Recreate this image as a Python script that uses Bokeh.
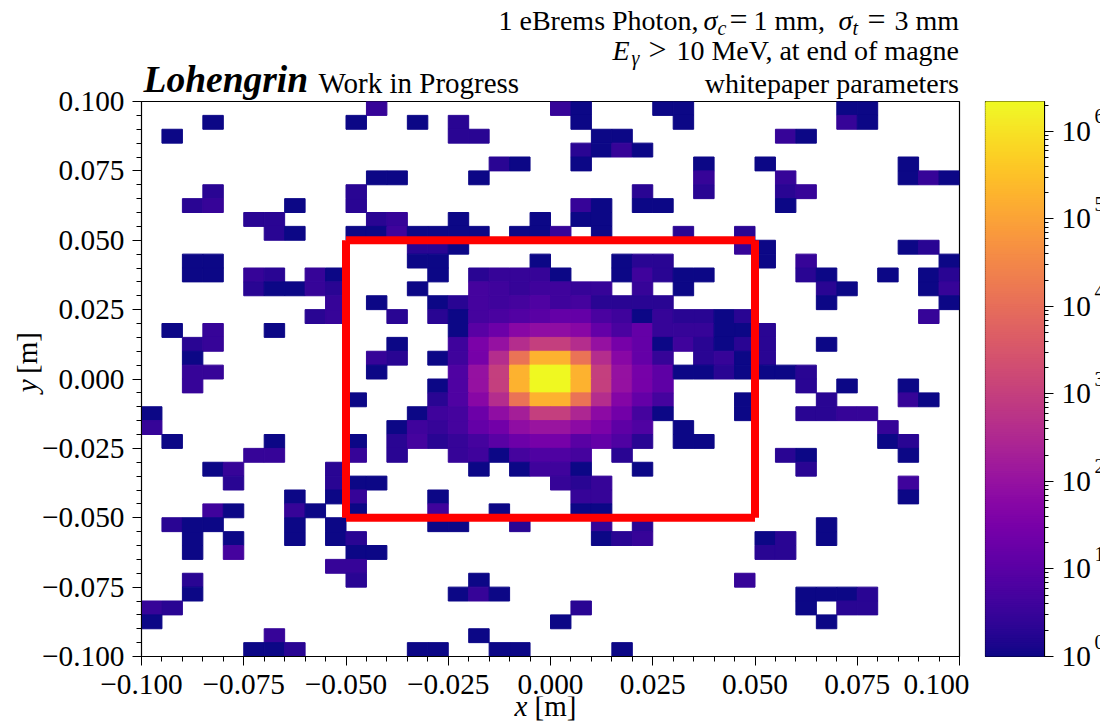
import numpy as np
from bokeh.core.properties import value
from bokeh.embed import file_html
from bokeh.resources import INLINE
from bokeh.plotting import figure
from bokeh.layouts import row, column
from bokeh.models import ColumnDataSource, LogColorMapper, FixedTicker, Range1d
from bokeh.palettes import Plasma256
from bokeh.transform import transform

FONT = "Liberation Serif"

# photon counts per bin: one {column: count} per row of the histogram, top row first
row_counts = [
 {11:3, 20:3, 21:1, 25:1, 26:1, 34:1, 35:1},
 {3:1, 10:1, 13:1, 15:2, 21:1, 26:1, 34:3, 35:1},
 {1:1, 15:2, 16:2, 22:1, 23:1, 31:3, 32:1},
 {21:2, 22:1, 23:3, 24:1},
 {17:2, 18:1, 21:1, 27:1, 30:1, 37:1},
 {11:1, 12:1, 16:1, 27:3, 31:3, 37:1, 38:3, 39:1},
 {3:2, 10:2, 24:2, 27:2, 31:2, 32:3},
 {2:2, 3:3, 7:1, 10:2, 21:3, 22:1, 24:1, 25:1, 31:1},
 {5:2, 6:2, 11:2, 12:3, 15:1, 19:1, 21:1, 22:1},
 {6:2, 7:1, 10:1, 11:1, 12:4, 13:1, 14:1, 15:1, 16:1, 18:1, 19:1, 20:3, 22:1, 26:2, 29:2},
 {13:2, 14:2, 15:1, 29:3, 30:1, 37:1, 38:2},
 {2:1, 3:1, 13:1, 14:1, 19:1, 23:1, 24:2, 25:2, 30:1, 32:3, 39:1},
 {2:1, 3:1, 5:3, 6:2, 8:3, 9:1, 14:1, 16:2, 17:3, 18:3, 19:3, 20:1, 23:1, 24:4, 25:2, 26:1, 27:1, 32:2, 33:1, 36:1, 38:1, 39:2},
 {5:2, 6:1, 7:1, 8:3, 9:2, 13:1, 16:5, 17:4, 18:3, 19:4, 20:4, 21:3, 22:3, 24:3, 26:1, 33:2, 34:1, 38:1, 39:3},
 {9:3, 11:1, 14:1, 15:2, 16:5, 17:4, 18:5, 19:7, 20:4, 21:5, 22:2, 23:2, 24:2, 25:2, 33:1, 39:1},
 {8:2, 9:3, 12:2, 14:2, 15:1, 16:5, 17:6, 18:8, 19:10, 20:15, 21:15, 22:6, 23:4, 24:1, 25:3, 26:2, 27:2, 28:1, 29:2, 38:3},
 {1:1, 3:3, 6:1, 15:1, 16:10, 17:20, 18:60, 19:80, 20:80, 21:60, 22:15, 23:6, 24:15, 25:3, 26:3, 27:3, 28:1, 29:1, 30:2},
 {2:2, 3:3, 12:1, 15:4, 16:35, 17:100, 18:400, 19:1000, 20:1000, 21:400, 22:100, 23:30, 24:15, 25:1, 26:4, 27:2, 28:1, 29:2, 30:2, 33:1},
 {2:1, 11:3, 12:2, 14:1, 15:4, 16:30, 17:400, 18:13000, 19:180000, 20:180000, 21:13000, 22:400, 23:60, 24:15, 25:3, 27:2, 28:3, 29:1, 30:2},
 {2:3, 3:3, 11:1, 15:7, 16:100, 17:1000, 18:180000, 19:2200000, 20:2200000, 21:180000, 22:1000, 23:100, 24:30, 25:12, 26:1, 27:1, 28:2, 29:1, 30:1, 31:1, 32:2},
 {2:3, 14:1, 15:7, 16:100, 17:1000, 18:180000, 19:2200000, 20:2200000, 21:180000, 22:1000, 23:100, 24:30, 25:12, 32:2, 34:1, 37:1},
 {10:1, 14:2, 15:7, 16:60, 17:400, 18:13000, 19:180000, 20:180000, 21:13000, 22:400, 23:50, 24:15, 25:5, 29:1, 33:2, 37:3, 38:1},
 {0:1, 13:1, 14:4, 15:5, 16:20, 17:80, 18:200, 19:1000, 20:1000, 21:300, 22:70, 23:25, 24:5, 25:1, 29:1, 32:2, 33:2, 34:3, 35:3},
 {0:3, 12:1, 13:4, 14:3, 15:5, 16:15, 17:25, 18:80, 19:120, 20:120, 21:70, 22:35, 23:12, 24:7, 26:1, 36:3},
 {1:1, 6:1, 10:1, 12:2, 13:5, 14:2, 15:3, 16:5, 17:10, 18:20, 19:30, 20:30, 21:10, 22:15, 23:7, 24:2, 26:1, 27:1, 36:1, 37:2},
 {5:3, 6:3, 10:3, 12:2, 15:3, 16:4, 17:1, 18:5, 19:7, 20:7, 21:5, 23:2, 31:2, 32:1, 37:1},
 {3:1, 4:3, 9:2, 16:1, 18:1, 19:4, 20:4, 21:1, 24:1, 32:2},
 {4:2, 9:2, 10:1, 11:1, 20:3, 21:2, 22:3, 37:4},
 {7:1, 9:1, 10:3, 14:1, 21:3, 22:3, 37:1},
 {3:4, 4:1, 7:3, 8:1, 10:1, 14:4, 17:1, 21:1, 22:1},
 {1:2, 2:1, 3:1, 7:1, 9:1, 14:1, 15:1, 18:2, 22:3, 24:2, 33:1},
 {2:1, 4:1, 7:1, 9:1, 10:2, 22:1, 23:2, 24:3, 30:1, 31:2, 33:1},
 {2:1, 4:5, 10:1, 11:1, 30:2, 31:2},
 {9:3, 10:3},
 {2:2, 10:2, 16:1, 29:3},
 {2:1, 15:1, 16:3, 17:1, 32:1, 33:1, 34:1, 35:2},
 {0:3, 1:2, 21:2, 32:1, 34:2, 35:2},
 {0:1, 20:1, 33:1},
 {6:3, 16:1},
 {5:1, 6:1, 7:2, 13:1, 14:1, 17:1, 18:1, 23:1},
]
bin_edges = np.linspace(-0.1, 0.1, 41)

axis_ticks = [-0.1, -0.075, -0.05, -0.025, 0.0, 0.025, 0.05, 0.075, 0.1]
axis_tick_labels = ["\u22120.100", "\u22120.075", "\u22120.050", "\u22120.025", "0.000", "0.025", "0.050", "0.075", "0.100"]
axis_minor = [round(-0.1 + 0.005 * i, 3) for i in range(41)]
box_x = [-0.05, 0.05, 0.05, -0.05]
box_y = [-0.05, -0.05, 0.05, 0.05]
cbar_low, cbar_high = 1.0, 2.2e6
cbar_ticks = [1, 10, 100, 1000, 10000, 100000, 1000000]
cbar_exponents = ["0", "1", "2", "3", "4", "5", "6"]

left, right, bottom, top, count = [], [], [], [], []
for r, cells in enumerate(row_counts):
    for c, n in cells.items():
        left.append(bin_edges[c]); right.append(bin_edges[c + 1])
        top.append(bin_edges[40 - r]); bottom.append(bin_edges[39 - r])
        count.append(n)
src = ColumnDataSource(dict(left=left, right=right, top=top, bottom=bottom, count=count))
mapper = LogColorMapper(palette=Plasma256, low=cbar_low, high=cbar_high)

def strip(width, height, x0, x1, y0, y1):
    """A text-only figure whose frame fills it; coordinates are picture pixels."""
    f = figure(width=width, height=height, output_backend="svg", toolbar_location=None,
               x_range=Range1d(x0, x1), y_range=Range1d(y1, y0),
               x_axis_location=None, y_axis_location=None,
               min_border_left=0, min_border_right=0, min_border_top=0, min_border_bottom=0)
    f.grid.visible = False
    f.outline_line_color = None
    f.background_fill_alpha = 0
    f.border_fill_alpha = 0
    return f

BASE = 0.36  # the SVG text baseline sits this many ems under the anchor

def put(fig, px, py, text, size=28, style="normal", align="left", angle=0.0):
    if angle:
        px -= BASE * size
    else:
        py -= BASE * size
    fig.text(x=[px], y=[py], text=[text], text_font=value(FONT), text_font_size=f"{size}px",
             text_font_style=style, text_align=align, text_baseline="alphabetic",
             text_color="black", angle=angle)

# main panel
OVER = 10
p = figure(width=930, height=605, output_backend="svg", toolbar_location=None,
           x_range=Range1d(-0.1, 0.1), y_range=Range1d(-0.1, 0.1),
           min_border_left=102, min_border_right=10, min_border_top=OVER, min_border_bottom=40,
           frame_width=818, frame_height=555, margin=(0, 0, 0, -5))
p.grid.visible = False
p.background_fill_color = "white"
p.border_fill_alpha = 0
p.outline_line_color = "black"
p.outline_line_width = 1.2
p.outline_line_alpha = 1
c = transform("count", mapper)
p.quad(left="left", right="right", top="top", bottom="bottom", source=src,
       fill_color=c, line_color=c, line_width=1)
p.segment(x0=[box_x[0], box_x[1], box_x[2], box_x[3]], y0=[box_y[0], box_y[1], box_y[2], box_y[3]],
          x1=[box_x[1], box_x[2], box_x[3], box_x[0]], y1=[box_y[1], box_y[2], box_y[3], box_y[0]],
          line_color="#ff0000", line_width=8, line_cap="butt")
for ax in (p.xaxis[0], p.yaxis[0]):
    ax.ticker = FixedTicker(ticks=axis_ticks, minor_ticks=axis_minor)
    ax.major_label_overrides = dict(zip(axis_ticks, axis_tick_labels))
    ax.major_label_text_font = FONT
    ax.major_label_text_font_size = "29.3px"
    ax.major_label_text_color = "black"
    ax.axis_line_color = "black"
    ax.major_tick_line_color = "black"
    ax.minor_tick_line_color = "black"
    ax.major_tick_in = 0
    ax.minor_tick_in = 0
    ax.major_tick_out = 9
    ax.minor_tick_out = 5
p.xaxis[0].major_label_standoff = 9
p.yaxis[0].major_label_standoff = 8
p.yaxis[0].major_label_orientation = "horizontal"

# header above the panel
head = strip(1100, 101, 0, 1100, 0, 101)
put(head, 498, 30, "1 eBrems Photon,")
put(head, 703, 30, "\u03c3", style="italic")
put(head, 717, 35, "c", size=20, style="italic")
put(head, 729, 30, "=", size=32)
put(head, 753, 30, "1 mm,")
put(head, 838, 30, "\u03c3", style="italic")
put(head, 852, 35, "t", size=20, style="italic")
put(head, 867, 30, "=", size=32)
put(head, 958.5, 30, "3 mm", align="right")
put(head, 612, 60, "E", style="italic")
put(head, 631, 65, "\u03b3", size=20, style="italic")
put(head, 648, 60, ">", size=32)
put(head, 958.5, 60, "10 MeV, at end of magne", align="right")
put(head, 958.5, 93, "whitepaper parameters", align="right")
put(head, 143, 92, "Lohengrin", size=37.5, style="bold italic")
put(head, 318, 93, "Work in Progress", size=29)

# axis titles
foot = strip(1100, 29, 0, 1100, 696, 725)
put(foot, 514, 716, "x", size=29, style="italic")
put(foot, 534, 716, "[m]", size=29)
gut = strip(44, 605, 0, 44, 91, 696)
put(gut, 37, 408, "y", size=29, style="italic", angle=np.pi / 2)
put(gut, 37, 388, "[m]", size=29, angle=np.pi / 2)

# colour bar
edges = np.geomspace(cbar_low, cbar_high, 257)
cb_src = ColumnDataSource(dict(bottom=edges[:-1], top=edges[1:], level=np.sqrt(edges[:-1] * edges[1:])))
p2 = figure(width=118, height=605, output_backend="svg", toolbar_location=None, y_axis_type="log",
            x_range=Range1d(0, 1), y_range=Range1d(cbar_low, cbar_high), y_axis_location="right",
            min_border_left=16, min_border_right=43, min_border_top=OVER, min_border_bottom=40,
            frame_width=59, frame_height=555)
p2.grid.visible = False
p2.xaxis.visible = False
p2.border_fill_alpha = 0
cc = transform("level", mapper)
p2.quad(left=0, right=1, bottom="bottom", top="top", source=cb_src, fill_color=cc, line_color=cc, line_width=2)
p2.outline_line_color = "black"
p2.outline_line_width = 1.2
p2.outline_line_alpha = 1
ay = p2.yaxis[0]
ay.ticker.num_minor_ticks = 10
ay.major_label_overrides = {t: "10" for t in cbar_ticks}
ay.major_label_text_font = FONT
ay.major_label_text_font_size = "29.3px"
ay.major_label_text_color = "black"
ay.axis_line_color = "black"
ay.major_tick_line_color = "black"
ay.minor_tick_line_color = "black"
ay.major_tick_in = 0
ay.minor_tick_in = 0
ay.major_tick_out = 9
ay.minor_tick_out = 4
ay.major_label_standoff = 8

# colour-bar exponents, on the colour bar's own log scale
p3 = figure(width=13, height=605, output_backend="svg", toolbar_location=None, y_axis_type="log",
            x_range=Range1d(0, 13), y_range=Range1d(cbar_low, cbar_high),
            x_axis_location=None, y_axis_location=None,
            min_border_left=0, min_border_right=0, min_border_top=OVER, min_border_bottom=40,
            frame_width=13, frame_height=555)
p3.grid.visible = False
p3.outline_line_color = None
p3.border_fill_alpha = 0
p3.background_fill_alpha = 0
p3.text(x=[1] * 7, y=cbar_ticks, text=cbar_exponents, text_font=value(FONT), text_font_size="20px",
        text_baseline="alphabetic", text_color="black", y_offset=-15)

body = row(gut, p, p2, p3, spacing=0, margin=(-OVER, 0, 0, 0))
layout = column(head, body, foot, spacing=0)
open("out.html", "w").write(file_html(layout, INLINE))
